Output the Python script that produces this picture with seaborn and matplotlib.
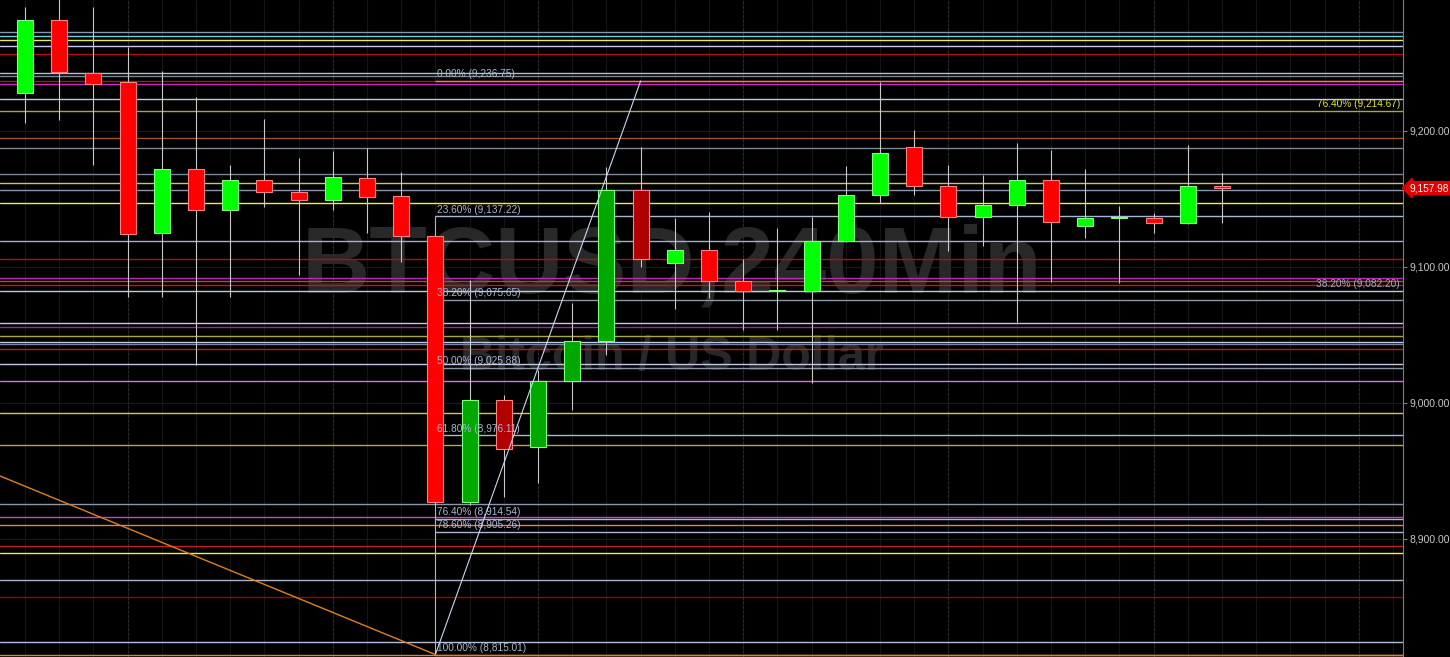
import numpy as np
import pandas as pd
import seaborn as sns
import matplotlib.pyplot as plt
import matplotlib.transforms as mtransforms

# 4h candles, BTCUSD
opens = [9227.9, 9281.6, 9242.6, 9236.0, 9125.0, 9172.1, 9141.9, 9164.0, 9155.1, 9149.3,
         9165.4, 9152.2, 9122.8, 8927.2, 9002.2, 8967.6, 9016.2, 9045.6, 9156.6, 9102.9,
         9112.5, 9089.7, 9082.3, 9082.4, 9119.1, 9152.9, 9188.0, 9159.8, 9136.5, 9145.4,
         9164.0, 9130.1, 9136.3, 9136.3, 9132.6, 9159.6]
highs = [9291.0, 9297.0, 9291.0, 9262.0, 9244.0, 9225.0, 9175.0, 9209.0, 9180.0, 9185.0,
         9187.5, 9170.0, 9124.0, 9090.4, 9006.0, 9024.0, 9073.5, 9173.5, 9188.0, 9136.0,
         9140.4, 9106.0, 9128.7, 9136.8, 9174.3, 9236.0, 9200.7, 9175.0, 9167.6, 9191.2,
         9186.0, 9172.0, 9144.9, 9140.0, 9189.7, 9169.0]
lows = [9205.9, 9208.0, 9175.0, 9078.0, 9078.0, 9028.0, 9078.0, 9144.0, 9094.0, 9142.0,
        9125.0, 9103.7, 8925.0, 8925.0, 8931.0, 8941.0, 8995.0, 9035.0, 9100.0, 9069.0,
        9077.2, 9054.0, 9053.7, 9015.0, 9118.0, 9146.8, 9153.0, 9112.0, 9115.4, 9059.6,
        9089.0, 9121.3, 9088.0, 9125.0, 9131.6, 9132.6]
closes = [9281.6, 9243.4, 9234.6, 9124.3, 9172.1, 9141.9, 9164.0, 9155.0, 9149.3, 9166.2,
          9151.5, 9122.8, 8927.2, 9002.2, 8966.0, 9016.2, 9045.6, 9156.6, 9105.9, 9112.5,
          9089.7, 9082.2, 9083.0, 9119.1, 9152.9, 9184.0, 9159.8, 9136.5, 9145.6, 9164.0,
          9133.0, 9136.3, 9136.8, 9132.6, 9159.6, 9157.98]
highlighted = [13, 14, 15, 16, 17, 18]

# support / resistance levels drawn across the chart
level_prices = [9272.6, 9269.9, 9266.9, 9262.7, 9256.4, 9242.9, 9240.4, 9236.8, 9234.3, 9223.3,
                9214.7, 9195.1, 9187.7, 9168.2, 9161.5, 9156.6, 9146.8, 9119.1, 9106.1, 9091.7,
                9089.7, 9086.5, 9082.2, 9058.6, 9056.1, 9049.3, 9044.6, 9043.4, 9039.7, 9028.7,
                9016.2, 8992.9, 8969.3, 8925.9, 8916.2, 8910.1, 8894.6, 8889.7, 8869.6, 8857.4,
                8824.0, 8814.5]
level_colors = ['#8898b0', '#70d0d8', '#e8e870', '#c8c8f0', '#b01010', '#b0c0d8', '#7a8898', '#a01818',
                '#c030c0', '#c0c8e8', '#a8a840', '#a05528', '#7a8898', '#7a8898', '#c8c860', '#8a98a8',
                '#f0f040', '#a8b0c0', '#b01010', '#b030b0', '#e03050', '#c01818', '#c0c8e8', '#c0c8e8',
                '#a020a0', '#a8a840', '#c0c8e8', '#7a8898', '#c01818', '#c0c8e8', '#e070e0', '#d0d040',
                '#b0b030', '#8a98a8', '#d040d0', '#e08060', '#c02020', '#f0f040', '#a8b4c8', '#a00000',
                '#b0c0d8', '#e08030']

# fibonacci retracement (low 8815.01 -> high 9236.75)
fib_pcts = [0.0, 23.6, 38.2, 50.0, 61.8, 76.4, 78.6, 100.0]
fib_prices = [9236.75, 9137.22, 9075.65, 9025.88, 8976.11, 8914.54, 8905.26, 8815.01]
fib_line_colors = ['#ff7070', '#a8b8d0', '#8a98a8', '#8a98a8', '#a8b8d0', '#a8b8d0', '#a8b8d0', '#d08040']
fib_start, fib_end = 12, 18

# labels from an older fib on the right edge
right_fib_pcts = [76.4, 38.2]
right_fib_prices = [9214.67, 9082.20]
right_fib_colors = ['#e0e040', '#a0a8b8']

trend_x = [-0.73, 12]
trend_y = [8946.3, 8815.0]

yticks = [8900, 9000, 9100, 9200]
last_price = 9157.98

df = pd.DataFrame({'open': opens, 'high': highs, 'low': lows, 'close': closes})
df['idx'] = np.arange(len(df))

sns.set_style("dark", {"axes.facecolor": "black", "figure.facecolor": "black",
                       "axes.edgecolor": "#7f7f7f", "grid.color": "#161616"})
plt.rcParams['font.family'] = ['Liberation Sans', 'DejaVu Sans']

fig = plt.figure(figsize=(14.5, 6.57), dpi=100)
ax = fig.add_axes([0, 0, 1403 / 1450, 1])
ax.set_xlim(-0.73, 40.29)
ax.set_ylim(8813.2, 9296.3)

# grid
for i in range(0, 41):
    ax.axvline(i, color='#151515', lw=0.8, zorder=0)
for i in range(3, 41, 6):
    ax.axvline(i, color='#2e2e2e', lw=0.8, ls=(0, (2, 2)), zorder=0)
for t in yticks:
    ax.axhline(t, color='#1a1a1a', lw=0.8, zorder=0)

# watermark
ax.text(18.9, 9080.9, 'BTCUSD,240Min', color='#282828', fontsize=68, fontweight='bold',
        ha='center', va='baseline', zorder=1)
ax.text(18.9, 9024.3, 'Bitcoin / US Dollar', color='#282828', fontsize=35, fontweight='bold',
        ha='center', va='baseline', zorder=1)

# horizontal levels
for p, c in zip(level_prices, level_colors):
    ax.axhline(p, color=c, lw=1.0, zorder=2)

# fib
for pct, p, c in zip(fib_pcts, fib_prices, fib_line_colors):
    ax.hlines(p, fib_start, 40.29, color=c, lw=1.0, zorder=3)
    ax.text(fib_start + 0.05, p + 5.0, f"{pct:.2f}% ({p:,.2f})", color='#a8b8d0',
            fontsize=7.3, ha='left', va='center', zorder=6)
ax.vlines(fib_start, fib_prices[-1], fib_prices[1], color='#a8b8d0', lw=0.8, zorder=3)
sns.lineplot(x=[fib_start, fib_end], y=[fib_prices[-1], fib_prices[0]], ax=ax,
             color='#c8d8f0', lw=0.8, zorder=7)
sns.lineplot(x=trend_x, y=trend_y, ax=ax, color='#e08020', lw=1.0, zorder=7)

for pct, p, c in zip(right_fib_pcts, right_fib_prices, right_fib_colors):
    ax.text(40.2, p + 5.0, f"{pct:.2f}% ({p:,.2f})", color=c, fontsize=7.3,
            ha='right', va='center', zorder=6)

# candles
ax.vlines(df['idx'], df['low'], df['high'], color='#c8c8c8', lw=0.8, zorder=4)
for _, r in df.iterrows():
    up = r['close'] >= r['open']
    dark = int(r['idx']) in highlighted
    if up:
        face = '#00a800' if dark else '#00ff00'
        edge = '#80ff80'
    else:
        face = '#b00000' if dark else '#ff0000'
        edge = '#ff8080'
    bottom = min(r['open'], r['close'])
    height = max(abs(r['close'] - r['open']), 0.6)
    ax.bar(r['idx'], height, bottom=bottom, width=0.47, color=face, edgecolor=edge,
           linewidth=0.8, zorder=5)

# right axis
ax.yaxis.tick_right()
ax.set_yticks(yticks)
ax.set_yticklabels([f"{t:,.2f}" for t in yticks])
ax.tick_params(axis='y', colors='#7f7f7f', labelcolor='#c8c8c8', labelsize=7.5,
               length=3, width=0.8, pad=2)
ax.set_xticks([])
for s in ['top', 'bottom', 'left']:
    ax.spines[s].set_visible(False)
ax.spines['right'].set_color('#7f7f7f')
ax.grid(False)

trans = mtransforms.blended_transform_factory(ax.transAxes, ax.transData)
ax.text(1.0045, last_price, f"{last_price:,.2f}", transform=trans, color='white',
        fontsize=7.3, ha='left', va='center', clip_on=False, zorder=10,
        bbox=dict(boxstyle='larrow,pad=0.15', fc='#e00000', ec='#e00000'))

fig.savefig('out.png', dpi=100, facecolor='black')
